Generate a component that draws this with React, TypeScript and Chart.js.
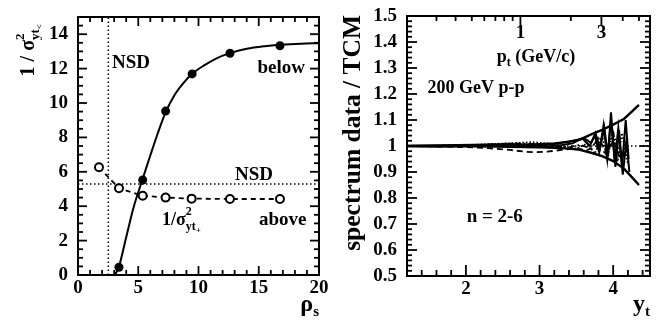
import React, { useEffect, useRef } from 'react';
import { Chart, registerables } from 'chart.js';

Chart.register(...registerables);

const SERIF = '"Liberation Serif", "Times New Roman", Times, serif';

// ---------- left panel: 1/sigma^2 versus rho_s ----------
const rhoS = [3.4, 5.37, 7.27, 9.47, 12.61, 16.76];
const invVarBelow = [0.45, 5.52, 9.53, 11.69, 12.89, 13.33];
const rhoSAbove = [1.74, 3.4, 5.37, 7.27, 9.43, 12.61, 16.76];
const invVarAbove = [6.26, 5.04, 4.61, 4.5, 4.44, 4.42, 4.42];
const trendRho = [3.07, 3.4, 4.0, 4.6, 5.37, 6.0, 6.6, 7.27, 8.0, 8.8, 9.47, 10.5, 11.5, 12.61, 14.0, 15.5, 16.76, 18.5, 20];
const trendInvVar = [0, 0.5, 2.2, 3.9, 5.6, 6.95, 8.2, 9.45, 10.45, 11.2, 11.7, 12.2, 12.6, 12.9, 13.15, 13.3, 13.38, 13.45, 13.48];
const nsdRho = 2.52;
const nsdInvVar = 5.29;
const rhoTicks = [0, 5, 10, 15, 20];
const invVarTicks = [0, 2, 4, 6, 8, 10, 12, 14];

// ---------- right panel: spectrum data / TCM versus y_t ----------
const bandYt = [1.2, 1.5, 1.8, 2.1, 2.4, 2.6, 2.8, 3.0, 3.2, 3.4, 3.55, 3.7, 3.85, 4.0, 4.15, 4.3, 4.35];
const upperBand = [1.0, 1.0, 1.001, 1.002, 1.003, 1.004, 1.005, 1.007, 1.01, 1.016, 1.025, 1.045, 1.062, 1.082, 1.105, 1.145, 1.158];
const lowerBand = [1.0, 1.0, 0.999, 0.999, 0.998, 0.997, 0.996, 0.995, 0.993, 0.99, 0.985, 0.974, 0.961, 0.942, 0.912, 0.866, 0.85];

const ytN2 = [1.2, 1.5, 1.9, 2.3, 2.6, 2.8, 3.0, 3.2, 3.35, 3.5, 3.6, 3.7, 3.76, 3.82, 3.88, 3.93, 3.97, 4.02, 4.07, 4.12, 4.17, 4.21];
const ratioN2 = [1.0, 1.002, 1.004, 1.006, 1.008, 1.005, 1.003, 1.008, 1.015, 1.022, 1.03, 1.012, 1.05, 0.99, 1.07, 0.96, 1.13, 0.94, 1.07, 0.92, 1.1, 0.95];
const ytN3 = [1.2, 1.6, 2.0, 2.4, 2.7, 2.9, 3.1, 3.3, 3.45, 3.58, 3.68, 3.75, 3.81, 3.87, 3.92, 3.97, 4.03, 4.08, 4.13, 4.18, 4.22];
const ratioN3 = [1.0, 0.998, 1.0, 1.002, 1.0, 0.996, 0.998, 1.004, 1.01, 1.03, 1.0, 1.04, 0.975, 1.08, 0.95, 1.1, 0.92, 1.06, 0.89, 1.02, 0.9];
const ytN4 = [1.2, 1.6, 2.0, 2.3, 2.6, 2.8, 2.95, 3.1, 3.3, 3.5, 3.65, 3.8, 3.9, 4.0, 4.1, 4.2];
const ratioN4 = [1.0, 0.998, 0.996, 0.992, 0.985, 0.978, 0.976, 0.978, 0.985, 0.99, 0.985, 1.0, 0.97, 1.02, 0.95, 0.99];
const ytN5 = [1.2, 1.6, 2.0, 2.4, 2.7, 2.9, 3.1, 3.3, 3.5, 3.65, 3.75, 3.85, 3.92, 4.0, 4.06, 4.12, 4.2];
const ratioN5 = [1.0, 1.001, 1.003, 1.008, 1.012, 1.015, 1.01, 1.0, 0.99, 1.01, 0.97, 1.04, 0.95, 1.06, 0.94, 1.05, 0.93];
const ytN6 = [1.2, 1.7, 2.2, 2.6, 2.9, 3.2, 3.4, 3.55, 3.7, 3.8, 3.9, 4.0, 4.1, 4.2];
const ratioN6 = [1.0, 1.0, 1.004, 1.01, 1.008, 1.0, 0.995, 1.005, 0.99, 1.03, 0.98, 1.05, 0.96, 1.03];

const ytTicks = [2, 3, 4];
const ratioTicks = [0.5, 0.6, 0.7, 0.8, 0.9, 1.0, 1.1, 1.2, 1.3, 1.4, 1.5];
// p_t (GeV/c) marks on the upper axis and where they sit in y_t
const ptMarks = ['0.3', '0.4', '0.5', '0.6', '0.7', '0.8', '0.9', '1', '2', '3', '4', '5'];
const ptMarkYt = [1.6, 1.86, 2.08, 2.25, 2.4, 2.52, 2.635, 2.74, 3.425, 3.84, 4.13, 4.35];
const ptLabelled = ['1', '3'];

const zip = (xs: number[], ys: number[]) => xs.map((x, i) => ({ x, y: ys[i] }));

interface Run {
  t?: string;
  size: number;
  dy?: number;
  sup?: string;
  sub?: string;
  supDy?: number;
  subDy?: number;
}

function runWidth(ctx: CanvasRenderingContext2D, r: Run) {
  ctx.font = `bold ${r.size}px ${SERIF}`;
  if (r.t !== undefined) return ctx.measureText(r.t).width;
  return Math.max(r.sup ? ctx.measureText(r.sup).width : 0, r.sub ? ctx.measureText(r.sub).width : 0);
}

function drawRich(
  ctx: CanvasRenderingContext2D,
  runs: Run[],
  x: number,
  y: number,
  align: 'left' | 'right' | 'center',
  angle = 0
) {
  ctx.save();
  ctx.translate(x, y);
  if (angle) ctx.rotate(angle);
  const widths = runs.map((r) => runWidth(ctx, r));
  const total = widths.reduce((a, b) => a + b, 0);
  let cx = align === 'left' ? 0 : align === 'right' ? -total : -total / 2;
  ctx.fillStyle = '#000';
  ctx.textAlign = 'left';
  ctx.textBaseline = 'alphabetic';
  runs.forEach((r, i) => {
    ctx.font = `bold ${r.size}px ${SERIF}`;
    if (r.t !== undefined) {
      ctx.fillText(r.t, cx, r.dy ?? 0);
    } else {
      if (r.sup) ctx.fillText(r.sup, cx, r.supDy ?? 0);
      if (r.sub) ctx.fillText(r.sub, cx, r.subDy ?? 0);
    }
    cx += widths[i];
  });
  ctx.restore();
}

function steps(from: number, to: number, step: number) {
  const out: number[] = [];
  const n = Math.round((to - from) / step);
  for (let i = 0; i <= n; i++) out.push(+(from + i * step).toFixed(4));
  return out;
}

const isMajor = (v: number, list: number[]) => list.some((m) => Math.abs(m - v) < 1e-6);

function vTick(ctx: CanvasRenderingContext2D, px: number, y0: number, len: number) {
  ctx.beginPath();
  ctx.moveTo(px, y0);
  ctx.lineTo(px, y0 + len);
  ctx.stroke();
}
function hTick(ctx: CanvasRenderingContext2D, py: number, x0: number, len: number) {
  ctx.beginPath();
  ctx.moveTo(x0, py);
  ctx.lineTo(x0 + len, py);
  ctx.stroke();
}

const tickFont = { family: SERIF, size: 19, weight: 'bold' as const };

const leftDecor = {
  id: 'leftDecor',
  afterDraw(chart: any) {
    const { ctx, chartArea: a } = chart;
    const x = chart.scales.x;
    const y = chart.scales.y;
    ctx.save();
    ctx.strokeStyle = '#000';
    ctx.lineWidth = 1.8;
    for (const v of steps(0, 20, 1)) {
      if (v <= 0 || v >= 20) continue;
      const len = isMajor(v, rhoTicks) ? 9 : 5;
      const px = x.getPixelForValue(v);
      vTick(ctx, px, a.bottom, -len);
      vTick(ctx, px, a.top, len);
    }
    for (const v of steps(0, 15, 0.5)) {
      if (v <= 0 || v >= 15) continue;
      const len = isMajor(v, invVarTicks) ? 9 : 5;
      const py = y.getPixelForValue(v);
      hTick(ctx, py, a.left, len);
      hTick(ctx, py, a.right, -len);
    }
    ctx.lineWidth = 2;
    ctx.strokeRect(a.left, a.top, a.right - a.left, a.bottom - a.top);

    const X = (v: number) => x.getPixelForValue(v);
    const Y = (v: number) => y.getPixelForValue(v);
    drawRich(ctx, [{ t: 'NSD', size: 19 }], X(2.82), Y(12.03), 'left');
    drawRich(ctx, [{ t: 'below', size: 19 }], X(18.84), Y(11.74), 'right');
    drawRich(ctx, [{ t: 'NSD', size: 19 }], X(13.03), Y(5.52), 'left');
    drawRich(ctx, [{ t: 'above', size: 19 }], X(15.02), Y(2.91), 'left');
    drawRich(
      ctx,
      [
        { t: '1/σ', size: 18 },
        { sup: '2', sub: 'yt', size: 12, supDy: -10, subDy: 5 },
        { t: '+', size: 9, dy: 8 },
      ],
      X(6.97),
      Y(2.91),
      'left'
    );
    // axis titles
    drawRich(ctx, [{ t: 'ρ', size: 24 }, { t: 's', size: 15, dy: 5 }], a.right, 311, 'right');
    drawRich(
      ctx,
      [
        { t: '1 / σ', size: 20 },
        { sup: '2', sub: 'yt', size: 13, supDy: -10, subDy: 5 },
        { t: '<', size: 9, dy: 8 },
      ],
      34,
      24,
      'right',
      -Math.PI / 2
    );
    ctx.restore();
  },
};

const rightDecor = {
  id: 'rightDecor',
  afterDraw(chart: any) {
    const { ctx, chartArea: a } = chart;
    const x = chart.scales.x;
    const y = chart.scales.y;
    ctx.save();
    ctx.strokeStyle = '#000';
    ctx.lineWidth = 1.8;
    for (const v of steps(1.2, 4.4, 0.2)) {
      if (v <= 1.2) continue;
      const len = isMajor(v, ytTicks) ? 11 : 6;
      vTick(ctx, x.getPixelForValue(v), a.bottom, -len);
    }
    ptMarks.forEach((m, i) => {
      const len = ptLabelled.includes(m) ? 10 : 5;
      vTick(ctx, x.getPixelForValue(ptMarkYt[i]), a.top, len);
    });
    for (const v of steps(0.5, 1.5, 0.02)) {
      if (v <= 0.5 || v >= 1.5) continue;
      const len = isMajor(v, ratioTicks) ? 10 : 5;
      const py = y.getPixelForValue(v);
      hTick(ctx, py, a.left, len);
      hTick(ctx, py, a.right, -len);
    }
    ctx.lineWidth = 2;
    ctx.strokeRect(a.left, a.top, a.right - a.left, a.bottom - a.top);

    const X = (v: number) => x.getPixelForValue(v);
    const Y = (v: number) => y.getPixelForValue(v);
    ptMarks.forEach((m, i) => {
      if (ptLabelled.includes(m)) drawRich(ctx, [{ t: m, size: 19 }], X(ptMarkYt[i]), a.top + 22, 'center');
    });
    drawRich(
      ctx,
      [
        { t: 'p', size: 18 },
        { t: 't', size: 12, dy: 4 },
        { t: ' (GeV/c)', size: 18 },
      ],
      X(2.42),
      Y(1.323),
      'left'
    );
    drawRich(ctx, [{ t: '200 GeV p-p', size: 18 }], X(1.48), Y(1.203), 'left');
    drawRich(ctx, [{ t: 'n = 2-6', size: 19 }], X(2.01), Y(0.708), 'left');
    // axis titles
    drawRich(ctx, [{ t: 'y', size: 24 }, { t: 't', size: 15, dy: 5 }], a.right, 311, 'right');
    drawRich(ctx, [{ t: 'spectrum data / TCM', size: 25.5 }], 29, 15, 'right', -Math.PI / 2);
    ctx.restore();
  },
};

const line = (data: { x: number; y: number }[], extra: any = {}) => ({
  data,
  showLine: true,
  borderColor: '#000',
  backgroundColor: '#000',
  borderWidth: 1.8,
  pointRadius: 0,
  tension: 0,
  ...extra,
});

function scaleBase(min: number, max: number, ticks: number[], fit: (s: any) => void, fmt?: (v: number) => string) {
  return {
    type: 'linear' as const,
    min,
    max,
    grid: { display: false },
    border: { display: false },
    afterBuildTicks: (s: any) => {
      s.ticks = ticks.map((value) => ({ value }));
    },
    afterFit: fit,
    ticks: {
      font: tickFont,
      color: '#000',
      padding: 2,
      autoSkip: false,
      maxRotation: 0,
      callback: (v: any) => (fmt ? fmt(Number(v)) : String(v)),
    },
  };
}

function xScale(min: number, max: number, ticks: number[], height: number) {
  const s: any = scaleBase(min, max, ticks, (sc) => {
    sc.height = height;
  });
  s.ticks.padding = -6;
  return s;
}

export default function App() {
  const leftRef = useRef<HTMLCanvasElement>(null);
  const rightRef = useRef<HTMLCanvasElement>(null);

  useEffect(() => {
    const common = {
      animation: false as const,
      responsive: false,
      maintainAspectRatio: false,
      events: [] as any[],
      plugins: { legend: { display: false }, tooltip: { enabled: false } },
    };

    const left = new Chart(leftRef.current as HTMLCanvasElement, {
      type: 'scatter',
      data: {
        datasets: [
          line(zip([nsdRho, nsdRho], [0, 15]), { borderWidth: 1.5, borderDash: [1.5, 2.5], order: 6 }),
          line(zip([0, 20], [nsdInvVar, nsdInvVar]), { borderWidth: 1.5, borderDash: [1.5, 2.5], order: 5 }),
          line(zip(trendRho, trendInvVar), { borderWidth: 2, cubicInterpolationMode: 'monotone', order: 3 }),
          line(zip(rhoSAbove, invVarAbove), { borderWidth: 1.8, borderDash: [5, 4], order: 2 }),
          {
            data: zip(rhoSAbove, invVarAbove),
            showLine: false,
            pointRadius: 4,
            pointBorderWidth: 2,
            pointBackgroundColor: '#fff',
            pointBorderColor: '#000',
            order: 1,
          },
          {
            data: zip(rhoS, invVarBelow),
            showLine: false,
            pointRadius: 4.5,
            pointBorderWidth: 0,
            pointBackgroundColor: '#000',
            pointBorderColor: '#000',
            order: 0,
          },
        ],
      },
      options: {
        ...common,
        layout: { padding: { top: 17, right: 12, left: 0, bottom: 0 } },
        scales: {
          x: xScale(0, 20, rhoTicks, 45),
          y: scaleBase(0, 15, invVarTicks, (s) => {
            s.width = 78;
          }),
        },
      } as any,
      plugins: [leftDecor],
    });

    const right = new Chart(rightRef.current as HTMLCanvasElement, {
      type: 'scatter',
      data: {
        datasets: [
          line(zip([1.2, 4.5], [1, 1]), { borderWidth: 1.5, borderDash: [1.5, 2.5], order: 9 }),
          line(zip(ytN4, ratioN4), { borderDash: [6, 4] }),
          line(zip(ytN5, ratioN5), { borderDash: [1.5, 2] }),
          line(zip(ytN6, ratioN6), { borderDash: [6, 3, 1.5, 3] }),
          line(zip(ytN2, ratioN2), { borderWidth: 2 }),
          line(zip(ytN3, ratioN3), { borderWidth: 2 }),
          line(zip(bandYt, upperBand), { borderWidth: 2.4 }),
          line(zip(bandYt, lowerBand), { borderWidth: 2.4 }),
        ],
      },
      options: {
        ...common,
        layout: { padding: { top: 16, right: 12, left: 0, bottom: 0 } },
        scales: {
          x: xScale(1.2, 4.5, ytTicks, 44),
          y: scaleBase(
            0.5,
            1.5,
            ratioTicks,
            (s) => {
              s.width = 76;
            },
            (v) => String(+v.toFixed(1))
          ),
        },
      } as any,
      plugins: [rightDecor],
    });

    return () => {
      left.destroy();
      right.destroy();
    };
  }, []);

  return (
    <div style={{ position: 'fixed', left: 0, top: 0, width: 662, height: 320, background: '#fff' }}>
      <canvas ref={leftRef} width={331} height={320} style={{ position: 'absolute', left: 0, top: 0 }} />
      <canvas ref={rightRef} width={331} height={320} style={{ position: 'absolute', left: 331, top: 0 }} />
    </div>
  );
}
